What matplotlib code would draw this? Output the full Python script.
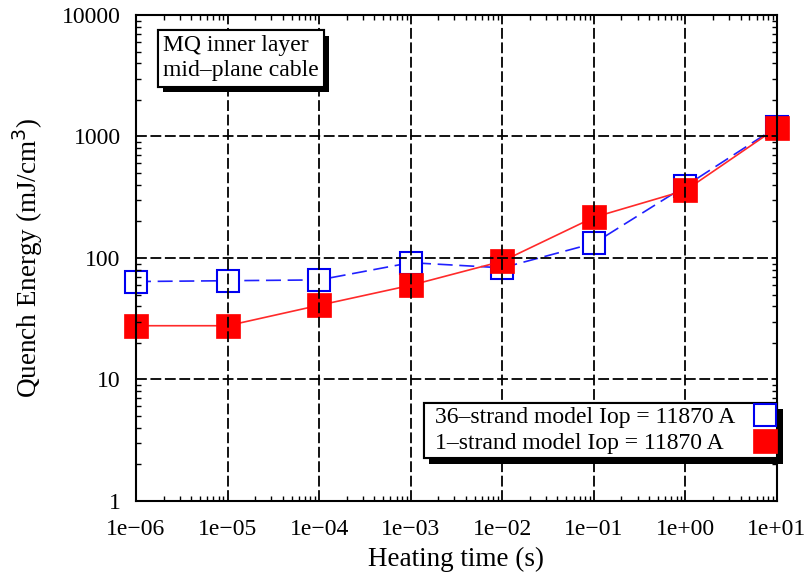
import numpy as np
import matplotlib
matplotlib.use('Agg')
import matplotlib.pyplot as plt
import matplotlib.patheffects as pe
from matplotlib.offsetbox import DrawingArea, HPacker

# heating times (s) and quench energies (mJ/cm^3)
heating_time = [1e-6, 1e-5, 1e-4, 1e-3, 1e-2, 1e-1, 1e0, 1e1]
qe_36strand = [64, 65, 66, 91.5, 83, 132, 391, 1200]
qe_1strand = [27.7, 27.7, 40.8, 59.6, 94, 216, 360, 1180]

x_ticks = [1e-6, 1e-5, 1e-4, 1e-3, 1e-2, 1e-1, 1e0, 1e1]
x_labels = ['1e\u221206', '1e\u221205', '1e\u221204', '1e\u221203',
            '1e\u221202', '1e\u221201', '1e+00', '1e+01']
y_ticks = [1, 10, 100, 1000, 10000]
y_labels = ['1', '10', '100', '1000', '10000']

plt.rcParams['font.family'] = ['Liberation Serif', 'DejaVu Serif']

fig = plt.figure(figsize=(8.06, 5.74), dpi=100)
ax = fig.add_axes([0.1687, 0.1272, 0.7953, 0.8467])
ax.set_axisbelow(False)  # grid drawn over the markers, like the original

ax.plot(heating_time, qe_36strand, color='#2020ff', linestyle=(0, (9, 4)), linewidth=1.2,
        marker='s', markersize=16, markerfacecolor='white', markeredgecolor='#0000f0',
        markeredgewidth=1.5, clip_on=False, label='36\u2013strand model Iop = 11870 A')
ax.plot(heating_time, qe_1strand, color='#ff2a2a', linestyle='-', linewidth=1.2,
        marker='s', markersize=17, markerfacecolor='red', markeredgecolor='red',
        markeredgewidth=0.5, clip_on=False, label='1\u2013strand model Iop = 11870 A')

ax.set_xscale('log')
ax.set_yscale('log')
ax.set_xlim(1e-6, 1e1)
ax.set_ylim(1, 1e4)
ax.set_xticks(x_ticks)
ax.set_xticklabels(x_labels)
ax.set_yticks(y_ticks)
ax.set_yticklabels(y_labels)
ax.tick_params(which='both', direction='in', top=True, right=True, labelsize=17)
ax.tick_params(which='major', length=0)
ax.tick_params(axis='x', which='major', pad=13)
ax.tick_params(axis='y', which='major', pad=11)
ax.tick_params(which='minor', length=3.5, width=1)
ax.grid(which='major', color='k', linestyle=(0, (6, 2)), linewidth=1.3)
for s in ax.spines.values():
    s.set_linewidth(1.5)

ax.set_xlabel('Heating time (s)', fontsize=19.5, labelpad=5)
ax.set_ylabel('Quench Energy (mJ/cm$^3$)', fontsize=19.5, labelpad=12)

shadow = [pe.withSimplePatchShadow(offset=(4, -4), shadow_rgbFace='k', alpha=1), pe.Normal()]

t = ax.text(0.042, 0.958, 'MQ inner layer\nmid\u2013plane cable', transform=ax.transAxes,
            fontsize=17, va='top', ha='left', linespacing=1.25,
            bbox=dict(boxstyle='square,pad=0.22', facecolor='white', edgecolor='k', linewidth=1.5))
t.get_bbox_patch().set_path_effects(shadow)

leg = ax.legend(loc='lower right', bbox_to_anchor=(1.0, 0.0885), fontsize=17, markerfirst=False,
                frameon=True, fancybox=False, edgecolor='k', framealpha=1,
                handlelength=0.7, handletextpad=0.9, borderpad=0.15, labelspacing=0.2,
                borderaxespad=0.0)
leg.get_frame().set_linewidth(1.5)
leg.get_frame().set_path_effects(shadow)
for h in leg.get_lines():
    h.set_linestyle('none')

# left-align the legend labels while keeping the markers in one column on the right,
# and leave some room before the labels
fig.canvas.draw()
renderer = fig.canvas.get_renderer()
widths = [tx.get_window_extent(renderer).width for tx in leg.get_texts()]
rows = leg._legend_handle_box.get_children()[0].get_children()
dpicor = renderer.points_to_pixels(1.0)
for row, w in zip(rows, widths):
    row.sep += (max(widths) - w) / dpicor
    kids = row.get_children()
    kids[0] = HPacker(pad=0, sep=0, align='baseline', children=[DrawingArea(6, 0), kids[0]])

fig.savefig('out.png', dpi=100)
